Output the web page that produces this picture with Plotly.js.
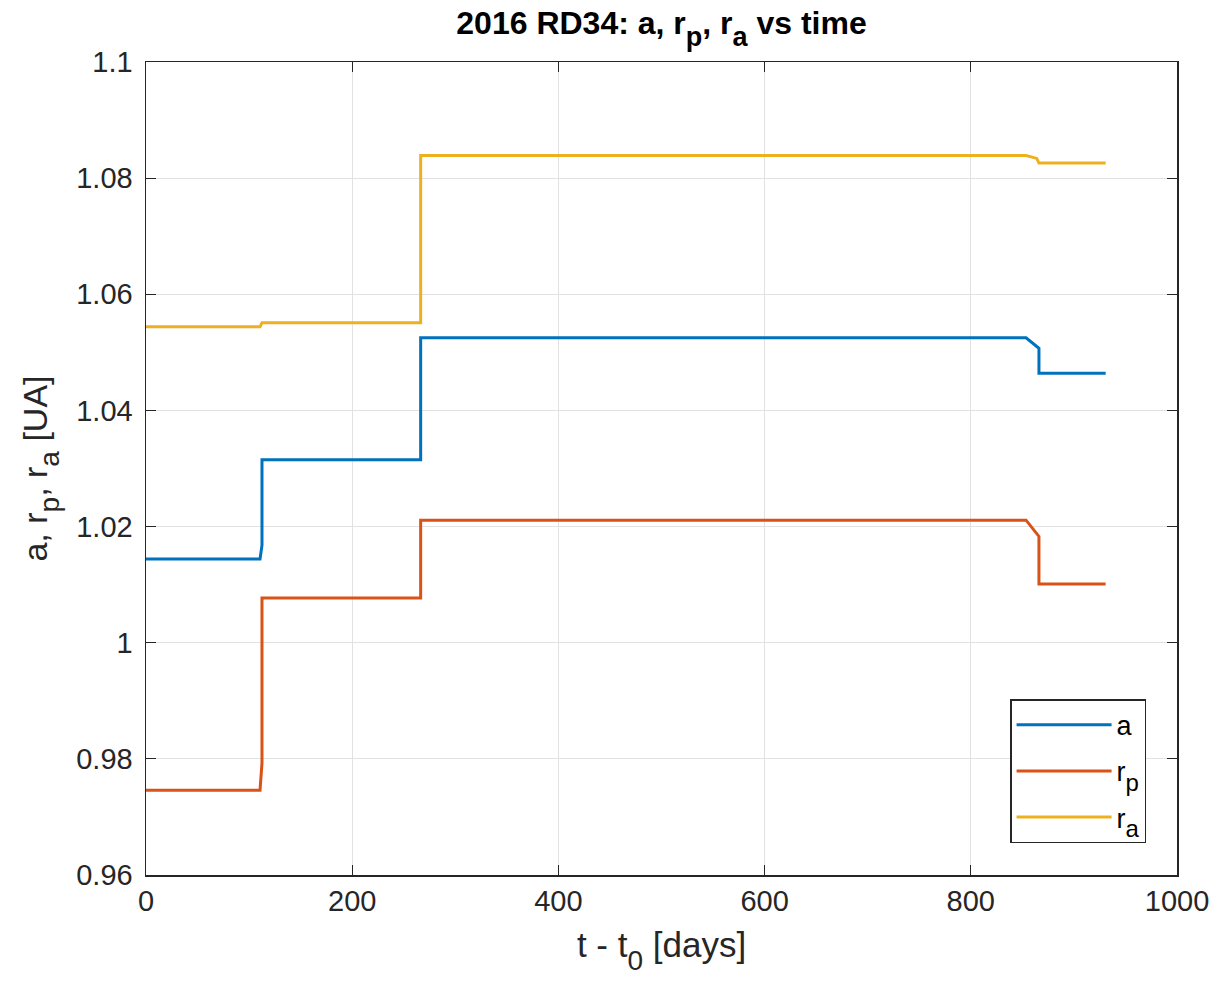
<!DOCTYPE html>
<html>
<head>
<meta charset="utf-8">
<script src="https://cdn.plot.ly/plotly-3.0.1.min.js"></script>
<style>html,body{margin:0;padding:0;background:#fff;}#chart{width:1225px;height:981px;}</style>
</head>
<body>
<div id="chart"></div>
<script>
// time samples [days] and values [UA]
const tA  = [0, 110.6, 112.5, 112.5, 266.4, 266.4, 853.6, 866.1, 866.1, 930.8];
const valA = [1.0144, 1.0144, 1.0168, 1.0315, 1.0315, 1.0525, 1.0525, 1.0507, 1.0464, 1.0464];

const tRp = [0, 110.6, 112.5, 112.5, 266.4, 266.4, 853.6, 866.1, 866.1, 930.8];
const valRp = [0.9746, 0.9746, 0.9793, 1.0077, 1.0077, 1.0211, 1.0211, 1.0183, 1.0101, 1.0101];

const tRa = [0, 110.6, 112.5, 266.4, 266.4, 853.6, 864.0, 866.1, 930.8];
const valRa = [1.0544, 1.0544, 1.0551, 1.0551, 1.0839, 1.0839, 1.0834, 1.0826, 1.0826];

const xTicks = [0, 200, 400, 600, 800, 1000];
const yTicks = [0.96, 0.98, 1.0, 1.02, 1.04, 1.06, 1.08, 1.1];
const yTickText = ['0.96', '0.98', '1', '1.02', '1.04', '1.06', '1.08', '1.1'];

// subscript helper (MATLAB-style: subscripts nearly full size, dropped lower)
function sub(s, px) { return '<sub><sub><span style="font-size:' + px + 'px">' + s + '</span></sub></sub>'; }

const names = ['a', 'r' + sub('p', 24), 'r' + sub('a', 24)];
const colors = ['#0072BD', '#D95319', '#EDB120'];

const series = [[tA, valA], [tRp, valRp], [tRa, valRa]];
const traces = series.map((s, i) => ({
  x: s[0], y: s[1], type: 'scatter', mode: 'lines', name: names[i],
  legendgroup: 'g' + i,
  line: {color: colors[i], width: 3}
}));

const font = 'Liberation Sans, Arial, sans-serif';
const axisCommon = {
  showgrid: true, gridcolor: '#e2e2e2', gridwidth: 1,
  zeroline: false, showline: true, linecolor: '#262626', linewidth: 1.5,
  mirror: 'ticks', ticks: 'inside', ticklen: 10, tickwidth: 1, tickcolor: '#262626',
  tickfont: {family: font, size: 29, color: '#262626'}
};

const layout = {
  width: 1225, height: 981,
  margin: {l: 146, r: 48, t: 62, b: 106},
  paper_bgcolor: '#fff', plot_bgcolor: '#fff',
  title: {text: '<b>2016 RD34: a, r' + sub('p', 27) + ', r' + sub('a', 27) + ' vs time</b>',
          x: 0.54, xanchor: 'center', y: 0.988, yanchor: 'top',
          font: {family: font, size: 32, color: '#000'}},
  xaxis: Object.assign({}, axisCommon, {
    range: [0, 1000], tickvals: xTicks, ticktext: xTicks.map(String),
    title: {text: 't - t' + sub('0', 28) + ' [days]', font: {family: font, size: 35, color: '#262626'}, standoff: 16}
  }),
  yaxis: Object.assign({}, axisCommon, {
    range: [0.96, 1.1], tickvals: yTicks, ticktext: yTickText, ticklabelstandoff: 6,
    title: {text: 'a, r' + sub('p', 28) + ', r' + sub('a', 28) + ' [UA]', font: {family: font, size: 34, color: '#262626'}, standoff: 18}
  }),
  showlegend: true,
  legend: {x: 0.970, xanchor: 'right', y: 0.039, yanchor: 'bottom',
           bgcolor: '#fff', bordercolor: '#262626', borderwidth: 1.5,
           font: {family: font, size: 27, color: '#000'}, itemwidth: 95,
           tracegroupgap: 8}
};

Plotly.newPlot('chart', traces, layout, {displayModeBar: false, staticPlot: true});
</script>
</body>
</html>
